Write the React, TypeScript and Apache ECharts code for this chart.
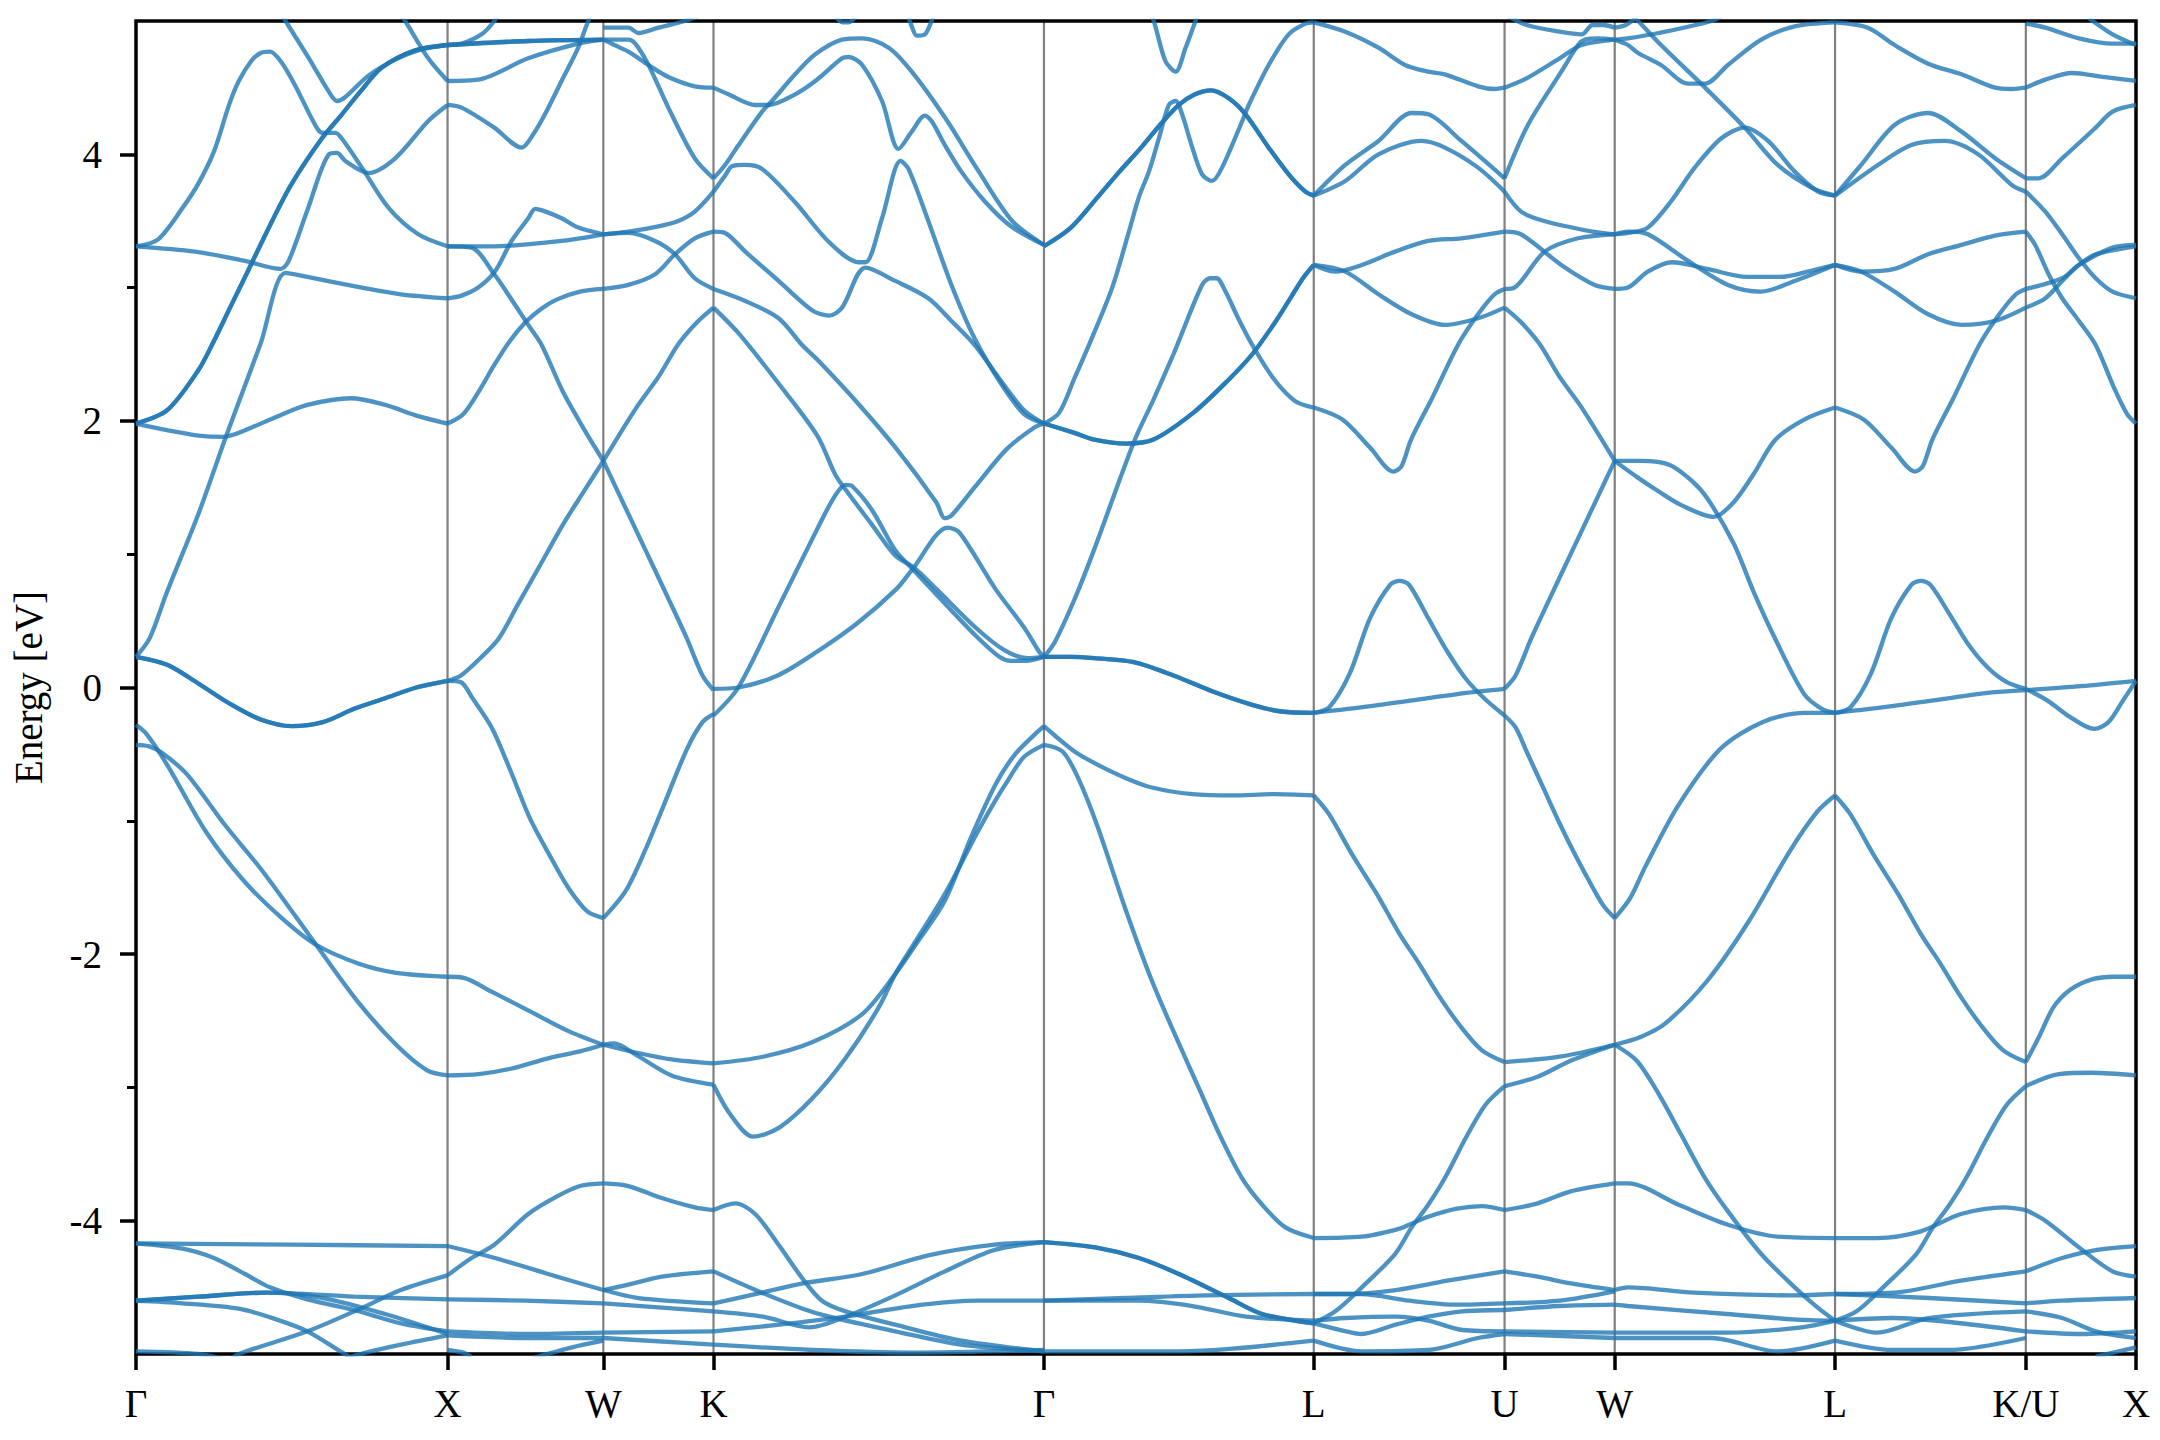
import React, { useEffect, useRef } from "react";
import * as echarts from "echarts";

// High-symmetry path: labels and cumulative path distance (2π/a units)
const kPathLabels = ["Γ", "X", "W", "K", "Γ", "L", "U", "W", "L", "K/U", "X"];
const kPathPositions = [0, 1.0, 1.5, 1.8536, 2.9142, 3.7802, 4.3926, 4.7462, 5.4533, 6.0657, 6.4193];
const yMajorTicks = [-4, -2, 0, 2, 4];
const yMinorTicks = [-3, -1, 1, 3];
const energyMin = -5;
const energyMax = 5;

// Each band: list of [fraction along segment, energy in eV]
const bandsGammaX = [
  [[0, -4.17], [0.5, -4.18], [1, -4.19]],
  [[0, -4.17], [0.15, -4.21], [0.25, -4.28], [0.35, -4.4], [0.43, -4.5], [0.55, -4.59], [0.7, -4.67], [0.85, -4.77], [1, -4.83]],
  [[0, -4.6], [0.2, -4.57], [0.42, -4.54], [0.7, -4.57], [1, -4.59]],
  [[0, -4.6], [0.2, -4.57], [0.42, -4.54], [0.6, -4.58], [0.8, -4.7], [1, -4.85]],
  [[0, -4.6], [0.15, -4.62], [0.33, -4.66], [0.45, -4.74], [0.55, -4.83], [0.67, -5.0], [0.75, -5.1]],
  [[0.3, -5.05], [0.33, -5.0], [0.55, -4.83], [0.72, -4.66], [0.85, -4.52], [1, -4.41]],
  [[0, -4.98], [0.2, -5.0], [0.3, -5.05]],
  [[0.65, -5.05], [0.72, -5.0], [0.85, -4.93], [1, -4.86]],
  [[0, -0.28], [0.034, -0.35], [0.1, -0.58], [0.224, -1.08], [0.346, -1.45], [0.468, -1.73], [0.578, -1.93], [0.713, -2.07], [0.835, -2.14], [1, -2.17]],
  [[0, -0.43], [0.04, -0.44], [0.083, -0.49], [0.163, -0.65], [0.285, -1.03], [0.407, -1.38], [0.578, -1.93], [0.713, -2.36], [0.835, -2.68], [0.933, -2.87], [1, -2.91]],
  [[0, 0.23], [0.1, 0.17], [0.2, 0.03], [0.3, -0.12], [0.4, -0.24], [0.5, -0.29], [0.6, -0.26], [0.7, -0.16], [0.8, -0.08], [0.9, 0.0], [1, 0.05]],
  [[0, 0.23], [0.1, 0.17], [0.2, 0.03], [0.3, -0.12], [0.4, -0.24], [0.5, -0.29], [0.6, -0.26], [0.7, -0.16], [0.8, -0.08], [0.9, 0.0], [1, 0.05]],
  [[0, 0.23], [0.044, 0.37], [0.1, 0.72], [0.2, 1.3], [0.29, 1.89], [0.4, 2.58], [0.48, 3.11], [0.55, 3.08], [0.725, 3.0], [0.85, 2.95], [1, 2.92]],
  [[0, 1.98], [0.1, 1.93], [0.2, 1.89], [0.28, 1.88], [0.35, 1.93], [0.45, 2.03], [0.55, 2.12], [0.69, 2.17], [0.8, 2.12], [0.9, 2.04], [1, 1.98]],
  [[0, 1.98], [0.1, 2.08], [0.2, 2.38], [0.246, 2.58], [0.3, 2.84], [0.35, 3.08], [0.437, 3.5], [0.5, 3.78], [0.597, 4.12], [0.661, 4.3], [0.72, 4.47], [0.789, 4.65], [0.896, 4.78], [1, 4.82]],
  [[0, 1.98], [0.1, 2.08], [0.2, 2.38], [0.246, 2.58], [0.3, 2.84], [0.35, 3.08], [0.437, 3.5], [0.5, 3.78], [0.597, 4.12], [0.661, 4.3], [0.72, 4.47], [0.789, 4.65], [0.896, 4.78], [1, 4.82]],
  [[0, 3.31], [0.07, 3.36], [0.15, 3.6], [0.2, 3.78], [0.25, 4.02], [0.3, 4.38], [0.33, 4.55], [0.37, 4.7], [0.4, 4.76], [0.43, 4.77], [0.47, 4.68], [0.512, 4.51], [0.58, 4.2], [0.6, 4.16], [0.64, 4.16], [0.66, 4.12], [0.725, 3.9], [0.81, 3.6], [0.906, 3.4], [1, 3.31]],
  [[0, 3.31], [0.19, 3.27], [0.35, 3.2], [0.464, 3.14], [0.49, 3.2], [0.55, 3.58], [0.619, 4.0], [0.645, 4.01], [0.672, 3.95], [0.746, 3.86], [0.832, 3.97], [0.938, 4.25], [1, 4.37]],
  [[0.46, 5.08], [0.48, 5.0], [0.555, 4.72], [0.619, 4.47], [0.645, 4.4], [0.672, 4.43], [0.746, 4.59], [0.832, 4.71], [0.906, 4.78], [1, 4.82]],
  [[0.84, 5.08], [0.864, 5.0], [0.938, 4.72], [1, 4.55]],
];

const bandsXW = [
  [[0, -4.19], [0.304, -4.28], [0.732, -4.43], [1, -4.52]],
  [[0, -4.41], [0.154, -4.28], [0.3, -4.18], [0.518, -3.95], [0.7, -3.82], [0.85, -3.74], [1, -3.72]],
  [[0, -4.59], [0.5, -4.6], [1, -4.62]],
  [[0, -4.83], [0.5, -4.85], [1, -4.84]],
  [[0, -4.86], [0.5, -4.88], [1, -4.88]],
  [[0, -4.97], [0.1, -4.99], [0.15, -5.02]],
  [[0.55, -5.03], [0.8, -4.95], [1, -4.9]],
  [[0, -2.17], [0.11, -2.18], [0.28, -2.28], [0.53, -2.43], [0.78, -2.58], [1, -2.68]],
  [[0, -2.91], [0.2, -2.9], [0.406, -2.86], [0.651, -2.78], [0.85, -2.73], [1, -2.68]],
  [[0, 0.05], [0.086, 0.04], [0.16, -0.08], [0.283, -0.3], [0.406, -0.63], [0.528, -0.98], [0.651, -1.25], [0.774, -1.5], [0.897, -1.68], [1, -1.73]],
  [[0, 0.05], [0.086, 0.09], [0.21, 0.22], [0.33, 0.37], [0.45, 0.62], [0.6, 0.93], [0.75, 1.24], [0.88, 1.48], [1, 1.7]],
  [[0, 1.98], [0.1, 2.05], [0.2, 2.22], [0.3, 2.42], [0.4, 2.6], [0.5, 2.74], [0.6, 2.84], [0.7, 2.91], [0.85, 2.97], [1, 2.99]],
  [[0, 3.31], [0.154, 3.3], [0.3, 3.1], [0.4, 2.93], [0.518, 2.72], [0.604, 2.57], [0.74, 2.22], [0.87, 1.95], [1, 1.7]],
  [[0, 3.31], [0.3, 3.31], [0.73, 3.35], [1, 3.4]],
  [[0, 2.92], [0.09, 2.94], [0.197, 3.0], [0.304, 3.12], [0.411, 3.35], [0.518, 3.52], [0.563, 3.59], [0.63, 3.57], [0.732, 3.52], [0.839, 3.45], [1, 3.4]],
  [[0, 4.37], [0.09, 4.35], [0.3, 4.2], [0.475, 4.05], [0.55, 4.15], [0.625, 4.3], [0.732, 4.55], [0.839, 4.8], [0.893, 4.97], [0.95, 5.12]],
  [[0, 4.55], [0.197, 4.56], [0.518, 4.72], [0.839, 4.83], [1, 4.86]],
  [[0, 4.82], [0.518, 4.85], [1, 4.86]],
  [[0, 4.82], [0.518, 4.85], [1, 4.86]],
  [[0, 4.82], [0.09, 4.83], [0.218, 4.9], [0.3, 5.0], [0.35, 5.1]],
];

const bandsWK = [
  [[0, -3.72], [0.227, -3.74], [0.53, -3.83], [0.83, -3.9], [1, -3.92]],
  [[0, -4.52], [0.227, -4.48], [0.53, -4.42], [1, -4.38]],
  [[0, -4.52], [0.32, -4.58], [1, -4.62]],
  [[0, -4.62], [0.5, -4.65], [1, -4.68]],
  [[0, -4.84], [1, -4.83]],
  [[0, -4.88], [1, -4.93]],
  [[0, -2.68], [0.097, -2.67], [0.305, -2.76], [0.618, -2.91], [1, -2.98]],
  [[0, -2.68], [0.305, -2.74], [0.618, -2.79], [1, -2.82]],
  [[0, -1.73], [0.2, -1.53], [0.375, -1.23], [0.55, -0.88], [0.76, -0.46], [0.9, -0.26], [1, -0.2]],
  [[0, 1.7], [0.2, 1.35], [0.4, 1.0], [0.6, 0.65], [0.757, 0.37], [0.9, 0.09], [1, -0.02]],
  [[0, 1.7], [0.3, 2.1], [0.5, 2.33], [0.68, 2.575], [0.85, 2.74], [1, 2.85]],
  [[0, 3.4], [0.227, 3.42], [0.5, 3.46], [0.68, 3.5], [0.83, 3.57], [1, 3.72]],
  [[0, 3.4], [0.227, 3.41], [0.47, 3.35], [0.65, 3.25], [0.83, 3.07], [1, 2.99]],
  [[0, 2.99], [0.227, 3.02], [0.47, 3.1], [0.65, 3.25], [0.83, 3.37], [1, 3.42]],
  [[0, 4.86], [0.227, 4.86], [0.29, 4.83], [0.41, 4.67], [0.59, 4.35], [0.83, 3.97], [1, 3.82]],
  [[0, 4.86], [0.1, 4.82], [0.227, 4.77], [0.41, 4.67], [0.59, 4.58], [0.83, 4.51], [1, 4.5]],
  [[0, 4.95], [0.227, 4.95], [0.32, 4.91], [0.5, 4.95], [0.74, 5.0], [0.9, 5.05]],
];

const bandsKGamma = [
  [[0, -3.92], [0.066, -3.87], [0.126, -3.95], [0.197, -4.18], [0.268, -4.43], [0.328, -4.6], [0.4, -4.68], [0.55, -4.78], [0.75, -4.9], [1, -4.98]],
  [[0, -4.38], [0.146, -4.54], [0.27, -4.66], [0.35, -4.72], [0.55, -4.83], [0.75, -4.93], [1, -4.98]],
  [[0, -4.62], [0.146, -4.54], [0.27, -4.47], [0.45, -4.4], [0.65, -4.26], [0.85, -4.18], [1, -4.16]],
  [[0, -4.68], [0.15, -4.72], [0.29, -4.8], [0.4, -4.72], [0.55, -4.56], [0.7, -4.38], [0.85, -4.22], [1, -4.16]],
  [[0, -4.83], [0.2, -4.78], [0.4, -4.72], [0.6, -4.64], [0.8, -4.6], [1, -4.6]],
  [[0, -4.93], [0.3, -4.97], [0.6, -4.99], [1, -4.97]],
  [[0, -2.98], [0.05, -3.2], [0.12, -3.37], [0.2, -3.3], [0.3, -3.08], [0.4, -2.78], [0.5, -2.4], [0.55, -2.15], [0.6, -1.95], [0.7, -1.55], [0.8, -1.08], [0.85, -0.86], [0.89, -0.7], [0.94, -0.52], [1, -0.43]],
  [[0, -2.82], [0.15, -2.77], [0.3, -2.66], [0.45, -2.45], [0.55, -2.15], [0.62, -1.9], [0.7, -1.6], [0.78, -1.12], [0.855, -0.72], [0.913, -0.5], [0.973, -0.35], [1, -0.29]],
  [[0, -0.21], [0.075, 0.0], [0.194, 0.59], [0.314, 1.19], [0.368, 1.44], [0.4, 1.52], [0.42, 1.51], [0.48, 1.33], [0.55, 1.03], [0.606, 0.88], [0.674, 0.7], [0.793, 0.39], [0.865, 0.23], [0.9, 0.2], [0.95, 0.2], [1, 0.23]],
  [[0, 2.85], [0.075, 2.66], [0.194, 2.29], [0.314, 1.89], [0.37, 1.59], [0.41, 1.45], [0.48, 1.22], [0.55, 0.99], [0.606, 0.9], [0.674, 0.74], [0.793, 0.45], [0.88, 0.28], [0.95, 0.22], [1, 0.23]],
  [[0, -0.01], [0.075, 0.0], [0.194, 0.09], [0.314, 0.27], [0.434, 0.48], [0.554, 0.74], [0.6, 0.88], [0.709, 1.2], [0.745, 1.16], [0.853, 0.74], [0.94, 0.45], [0.985, 0.27], [1, 0.23]],
  [[0, 2.99], [0.096, 2.9], [0.197, 2.77], [0.268, 2.57], [0.314, 2.46], [0.434, 2.14], [0.554, 1.79], [0.674, 1.39], [0.7, 1.27], [0.72, 1.29], [0.793, 1.51], [0.888, 1.79], [0.971, 1.95], [1, 1.98]],
  [[0, 3.42], [0.035, 3.41], [0.096, 3.27], [0.197, 3.05], [0.298, 2.83], [0.35, 2.79], [0.389, 2.85], [0.46, 3.15], [0.55, 3.05], [0.65, 2.92], [0.72, 2.75], [0.79, 2.57], [0.87, 2.3], [0.94, 2.08], [1, 1.98]],
  [[0, 3.72], [0.035, 3.84], [0.056, 3.91], [0.096, 3.92], [0.147, 3.89], [0.247, 3.64], [0.35, 3.34], [0.44, 3.19], [0.46, 3.19], [0.51, 3.52], [0.566, 3.95], [0.59, 3.89], [0.65, 3.5], [0.72, 3.02], [0.79, 2.62], [0.87, 2.28], [0.94, 2.05], [1, 1.98]],
  [[0, 3.82], [0.035, 3.92], [0.076, 4.07], [0.147, 4.32], [0.177, 4.4], [0.247, 4.6], [0.308, 4.75], [0.389, 4.86], [0.45, 4.87], [0.53, 4.8], [0.6, 4.62], [0.702, 4.27], [0.803, 3.87], [0.904, 3.5], [1, 3.32]],
  [[0, 4.5], [0.045, 4.45], [0.126, 4.37], [0.167, 4.37], [0.247, 4.45], [0.308, 4.55], [0.389, 4.72], [0.409, 4.73], [0.45, 4.67], [0.51, 4.4], [0.56, 4.04], [0.6, 4.17], [0.64, 4.29], [0.66, 4.25], [0.7, 4.07], [0.75, 3.87], [0.82, 3.65], [0.9, 3.46], [1, 3.32]],
  [[0.585, 5.06], [0.6, 4.96], [0.615, 4.89], [0.64, 4.9], [0.66, 5.0], [0.67, 5.06]],
  [[0.37, 5.03], [0.39, 4.99], [0.41, 4.99], [0.43, 5.03]],
];

const bandsGammaL = [
  [[0, -4.16], [0.19, -4.2], [0.352, -4.28], [0.5, -4.4], [0.685, -4.58], [0.809, -4.7], [1, -4.77]],
  [[0, -4.16], [0.19, -4.2], [0.352, -4.28], [0.5, -4.4], [0.685, -4.58], [0.809, -4.7], [1, -4.77]],
  [[0, -4.6], [0.3, -4.58], [0.6, -4.56], [1, -4.55]],
  [[0, -4.6], [0.35, -4.6], [0.55, -4.64], [0.75, -4.72], [1, -4.75]],
  [[0, -4.98], [0.5, -4.98], [0.7, -4.96], [1, -4.9]],
  [[0, -0.43], [0.069, -0.48], [0.127, -0.68], [0.2, -1.05], [0.3, -1.65], [0.4, -2.2], [0.5, -2.67], [0.571, -2.99], [0.65, -3.35], [0.734, -3.68], [0.809, -3.88], [0.895, -4.05], [1, -4.13]],
  [[0, -0.29], [0.04, -0.36], [0.113, -0.48], [0.2, -0.58], [0.304, -0.68], [0.4, -0.75], [0.55, -0.8], [0.7, -0.81], [0.85, -0.8], [1, -0.81]],
  [[0, 0.23], [0.1, 0.23], [0.187, 0.22], [0.333, 0.19], [0.48, 0.09], [0.626, -0.03], [0.772, -0.13], [0.88, -0.18], [1, -0.19]],
  [[0, 0.23], [0.1, 0.23], [0.187, 0.22], [0.333, 0.19], [0.48, 0.09], [0.626, -0.03], [0.772, -0.13], [0.88, -0.18], [1, -0.19]],
  [[0, 0.23], [0.04, 0.34], [0.113, 0.66], [0.187, 1.04], [0.333, 1.84], [0.406, 2.16], [0.48, 2.5], [0.5, 2.6], [0.586, 3.02], [0.615, 3.07], [0.64, 3.07], [0.673, 2.97], [0.72, 2.77], [0.772, 2.57], [0.85, 2.32], [0.93, 2.15], [1, 2.1]],
  [[0, 1.98], [0.113, 1.91], [0.187, 1.86], [0.304, 1.83], [0.406, 1.86], [0.553, 2.06], [0.68, 2.3], [0.772, 2.5], [0.85, 2.72], [0.907, 2.9], [0.96, 3.07], [1, 3.17]],
  [[0, 1.98], [0.113, 1.91], [0.187, 1.86], [0.304, 1.83], [0.406, 1.86], [0.553, 2.06], [0.68, 2.3], [0.772, 2.5], [0.85, 2.72], [0.907, 2.9], [0.96, 3.07], [1, 3.17]],
  [[0, 1.98], [0.056, 2.06], [0.113, 2.32], [0.167, 2.57], [0.253, 3.0], [0.315, 3.42], [0.352, 3.68], [0.389, 3.87], [0.426, 4.12], [0.463, 4.37], [0.488, 4.4], [0.512, 4.3], [0.55, 4.05], [0.586, 3.85], [0.623, 3.8], [0.66, 3.9], [0.735, 4.25], [0.759, 4.37], [0.833, 4.67], [0.907, 4.9], [0.969, 4.98], [1, 4.99]],
  [[0, 3.31], [0.1, 3.45], [0.2, 3.68], [0.28, 3.87], [0.36, 4.05], [0.43, 4.22], [0.5, 4.37], [0.56, 4.45], [0.62, 4.48], [0.685, 4.42], [0.747, 4.3], [0.833, 4.05], [0.907, 3.85], [0.969, 3.72], [1, 3.69]],
  [[0, 3.31], [0.1, 3.45], [0.2, 3.68], [0.28, 3.87], [0.36, 4.05], [0.43, 4.22], [0.5, 4.37], [0.56, 4.45], [0.62, 4.48], [0.685, 4.42], [0.747, 4.3], [0.833, 4.05], [0.907, 3.85], [0.969, 3.72], [1, 3.69]],
  [[0.39, 5.06], [0.407, 5.0], [0.45, 4.7], [0.488, 4.62], [0.525, 4.8], [0.562, 5.0], [0.575, 5.06]],
];

const bandsLU = [
  [[0, -4.13], [0.25, -4.12], [0.45, -4.06], [0.5, -4.03], [0.6, -3.97], [0.75, -3.91], [0.88, -3.89], [1, -3.92]],
  [[0, -4.77], [0.113, -4.68], [0.252, -4.5], [0.426, -4.25], [0.513, -4.05], [0.6, -3.88], [0.687, -3.68], [0.8, -3.37], [0.9, -3.13], [1, -2.99]],
  [[0, -4.55], [0.25, -4.55], [0.5, -4.6], [0.75, -4.63], [1, -4.62]],
  [[0, -4.55], [0.17, -4.55], [0.43, -4.52], [0.7, -4.45], [1, -4.38]],
  [[0, -4.77], [0.17, -4.83], [0.25, -4.85], [0.43, -4.78], [0.6, -4.72], [0.78, -4.68], [1, -4.67]],
  [[0, -4.75], [0.17, -4.73], [0.43, -4.72], [0.6, -4.75], [0.78, -4.82], [1, -4.83]],
  [[0, -4.9], [0.25, -4.98], [0.6, -4.97], [0.86, -4.88], [1, -4.85]],
  [[0, -0.81], [0.08, -0.95], [0.2, -1.25], [0.331, -1.55], [0.45, -1.85], [0.547, -2.06], [0.65, -2.3], [0.763, -2.53], [0.88, -2.72], [1, -2.81]],
  [[0, -0.19], [0.3, -0.14], [0.6, -0.08], [0.8, -0.04], [1, -0.01]],
  [[0, -0.19], [0.08, -0.15], [0.187, 0.1], [0.295, 0.52], [0.4, 0.77], [0.45, 0.8], [0.5, 0.77], [0.6, 0.52], [0.7, 0.27], [0.8, 0.06], [0.9, -0.09], [1, -0.21]],
  [[0, 2.1], [0.15, 2.01], [0.295, 1.8], [0.417, 1.62], [0.46, 1.66], [0.51, 1.86], [0.62, 2.17], [0.76, 2.58], [0.861, 2.8], [0.948, 2.95], [1, 2.99]],
  [[0, 3.17], [0.165, 3.12], [0.339, 2.95], [0.513, 2.8], [0.687, 2.72], [0.861, 2.77], [1, 2.85]],
  [[0, 3.17], [0.113, 3.12], [0.252, 3.17], [0.426, 3.27], [0.6, 3.35], [0.774, 3.37], [1, 3.42]],
  [[0, 3.69], [0.165, 3.92], [0.339, 4.1], [0.513, 4.31], [0.6, 4.3], [0.774, 4.1], [1, 3.82]],
  [[0, 3.69], [0.165, 3.8], [0.339, 4.0], [0.565, 4.1], [0.687, 4.05], [0.861, 3.9], [1, 3.72]],
  [[0, 4.99], [0.165, 4.92], [0.339, 4.8], [0.478, 4.67], [0.6, 4.62], [0.687, 4.6], [0.861, 4.51], [0.948, 4.49], [1, 4.5]],
];

const bandsUW = [
  [[0, -3.92], [0.3, -3.87], [0.6, -3.78], [1, -3.72]],
  [[0, -4.38], [0.3, -4.42], [0.6, -4.47], [1, -4.52]],
  [[0, -4.62], [0.5, -4.6], [1, -4.53]],
  [[0, -4.67], [0.5, -4.64], [1, -4.63]],
  [[0, -4.83], [1, -4.84]],
  [[0, -4.85], [1, -4.88]],
  [[0, -2.81], [0.5, -2.77], [1, -2.68]],
  [[0, -2.99], [0.3, -2.92], [0.6, -2.8], [1, -2.68]],
  [[0, -0.21], [0.1, -0.3], [0.2, -0.48], [0.35, -0.75], [0.5, -1.02], [0.65, -1.27], [0.8, -1.5], [0.9, -1.64], [1, -1.73]],
  [[0, -0.01], [0.1, 0.09], [0.243, 0.37], [0.4, 0.65], [0.6, 1.0], [0.8, 1.35], [1, 1.7]],
  [[0, 2.85], [0.15, 2.74], [0.32, 2.575], [0.5, 2.33], [0.7, 2.1], [1, 1.7]],
  [[0, 2.99], [0.09, 3.0], [0.364, 3.27], [0.667, 3.37], [1, 3.4]],
  [[0, 3.42], [0.15, 3.4], [0.515, 3.17], [0.818, 3.02], [1, 2.99]],
  [[0, 3.72], [0.15, 3.57], [0.36, 3.5], [0.8, 3.42], [1, 3.4]],
  [[0, 3.82], [0.212, 4.22], [0.515, 4.62], [0.667, 4.82], [0.73, 4.86], [0.85, 4.87], [1, 4.86]],
  [[0, 4.5], [0.2, 4.57], [0.5, 4.72], [0.7, 4.82], [1, 4.86]],
  [[0, 5.05], [0.2, 4.97], [0.5, 4.92], [0.7, 4.9], [0.8, 4.97], [0.9, 4.97], [1, 4.95]],
];

const bandsWL = [
  [[0, -3.72], [0.06, -3.72], [0.29, -3.88], [0.514, -4.03], [0.74, -4.12], [1, -4.13]],
  [[0, -2.68], [0.1, -2.8], [0.2, -3.05], [0.3, -3.35], [0.41, -3.68], [0.514, -3.93], [0.665, -4.25], [0.817, -4.5], [0.92, -4.65], [1, -4.75]],
  [[0, -4.52], [0.06, -4.5], [0.36, -4.54], [0.81, -4.56], [1, -4.55]],
  [[0, -4.63], [0.06, -4.64], [0.51, -4.7], [0.81, -4.74], [1, -4.75]],
  [[0, -4.84], [0.51, -4.84], [0.85, -4.8], [1, -4.75]],
  [[0, -4.88], [0.44, -4.88], [0.74, -4.98], [1, -4.9]],
  [[0, -2.68], [0.12, -2.62], [0.23, -2.52], [0.42, -2.2], [0.61, -1.75], [0.79, -1.24], [0.92, -0.93], [1, -0.81]],
  [[0, -1.73], [0.07, -1.58], [0.14, -1.34], [0.29, -0.88], [0.48, -0.46], [0.67, -0.26], [0.86, -0.19], [1, -0.19]],
  [[0, 1.7], [0.12, 1.7], [0.25, 1.67], [0.35, 1.55], [0.42, 1.42], [0.54, 1.08], [0.63, 0.72], [0.73, 0.36], [0.86, -0.05], [0.94, -0.16], [1, -0.19]],
  [[0, 1.7], [0.1, 1.58], [0.2, 1.47], [0.3, 1.37], [0.45, 1.28], [0.54, 1.39], [0.63, 1.6], [0.73, 1.86], [0.86, 2.01], [1, 2.1]],
  [[0, 2.99], [0.06, 3.0], [0.15, 3.12], [0.26, 3.19], [0.42, 3.14], [0.6, 3.08], [0.75, 3.08], [0.9, 3.13], [1, 3.17]],
  [[0, 3.4], [0.06, 3.42], [0.151, 3.4], [0.333, 3.2], [0.514, 3.02], [0.665, 2.97], [0.817, 3.05], [1, 3.17]],
  [[0, 3.4], [0.06, 3.41], [0.15, 3.45], [0.257, 3.65], [0.363, 3.9], [0.484, 4.12], [0.59, 4.2], [0.696, 4.1], [0.817, 3.87], [0.923, 3.72], [1, 3.69]],
  [[0.04, 5.1], [0.106, 5.0], [0.21, 4.82], [0.41, 4.5], [0.59, 4.2], [0.74, 3.92], [0.893, 3.75], [1, 3.69]],
  [[0, 4.86], [0.06, 4.82], [0.106, 4.76], [0.21, 4.67], [0.333, 4.53], [0.41, 4.53], [0.514, 4.67], [0.665, 4.86], [0.817, 4.96], [1, 4.99]],
  [[0, 4.86], [0.06, 4.87], [0.2, 4.91], [0.44, 5.0], [0.5, 5.05]],
  [[0, 4.95], [0.05, 4.97], [0.1, 5.03]],
];

const bandsLK = [
  [[0, -4.13], [0.22, -4.13], [0.45, -4.08], [0.66, -3.95], [0.89, -3.9], [1, -3.92]],
  [[0, -4.75], [0.113, -4.68], [0.252, -4.5], [0.426, -4.25], [0.513, -4.05], [0.6, -3.88], [0.687, -3.68], [0.8, -3.37], [0.9, -3.13], [1, -2.99]],
  [[0, -4.55], [0.31, -4.54], [0.66, -4.45], [1, -4.38]],
  [[0, -4.55], [0.49, -4.58], [1, -4.62]],
  [[0, -4.75], [0.22, -4.84], [0.49, -4.73], [1, -4.68]],
  [[0, -4.75], [0.3, -4.73], [0.6, -4.76], [1, -4.83]],
  [[0, -4.9], [0.3, -4.97], [0.6, -4.97], [1, -4.88]],
  [[0, -0.81], [0.08, -0.95], [0.2, -1.25], [0.331, -1.55], [0.45, -1.85], [0.547, -2.06], [0.65, -2.3], [0.763, -2.53], [0.88, -2.72], [1, -2.81]],
  [[0, -0.19], [0.3, -0.14], [0.6, -0.08], [0.8, -0.04], [1, -0.02]],
  [[0, -0.19], [0.08, -0.15], [0.187, 0.1], [0.295, 0.52], [0.4, 0.77], [0.45, 0.8], [0.5, 0.77], [0.6, 0.55], [0.7, 0.32], [0.8, 0.15], [0.9, 0.04], [1, -0.01]],
  [[0, 2.1], [0.15, 2.01], [0.295, 1.8], [0.42, 1.62], [0.46, 1.66], [0.51, 1.86], [0.62, 2.17], [0.76, 2.58], [0.861, 2.8], [0.948, 2.95], [1, 2.99]],
  [[0, 3.17], [0.137, 3.12], [0.312, 2.97], [0.488, 2.8], [0.663, 2.72], [0.839, 2.75], [1, 2.85]],
  [[0, 3.17], [0.137, 3.12], [0.312, 3.14], [0.488, 3.25], [0.663, 3.32], [0.839, 3.39], [1, 3.42]],
  [[0, 3.69], [0.137, 3.92], [0.312, 4.22], [0.488, 4.31], [0.663, 4.17], [0.839, 3.97], [1, 3.82]],
  [[0, 3.69], [0.225, 3.92], [0.4, 4.07], [0.575, 4.1], [0.75, 4.0], [0.926, 3.77], [1, 3.72]],
  [[0, 4.99], [0.172, 4.95], [0.312, 4.82], [0.488, 4.68], [0.663, 4.6], [0.839, 4.5], [0.926, 4.49], [1, 4.5]],
];

const bandsKX = [
  [[0, -3.92], [0.177, -4.0], [0.482, -4.2], [0.787, -4.38], [1, -4.42]],
  [[0, -4.38], [0.33, -4.28], [0.634, -4.22], [1, -4.19]],
  [[0, -4.62], [0.33, -4.6], [1, -4.58]],
  [[0, -4.68], [0.33, -4.73], [0.634, -4.83], [1, -4.88]],
  [[0, -4.83], [0.5, -4.85], [1, -4.83]],
  [[0.634, -5.02], [1, -4.95]],
  [[0, -2.99], [0.3, -2.9], [0.6, -2.89], [1, -2.91]],
  [[0, -2.81], [0.12, -2.62], [0.25, -2.4], [0.4, -2.27], [0.6, -2.19], [0.8, -2.17], [1, -2.17]],
  [[0, -0.01], [0.2, -0.1], [0.4, -0.22], [0.62, -0.31], [0.75, -0.26], [0.88, -0.1], [1, 0.05]],
  [[0, -0.02], [0.5, 0.01], [1, 0.05]],
  [[0, 2.85], [0.177, 2.92], [0.33, 3.05], [0.482, 3.17], [0.634, 3.25], [1, 3.31]],
  [[0, 2.99], [0.33, 3.07], [0.482, 3.17], [0.787, 3.3], [1, 3.32]],
  [[0, 3.42], [0.085, 3.32], [0.207, 3.1], [0.33, 2.92], [0.482, 2.75], [0.634, 2.57], [0.8, 2.25], [0.92, 2.05], [1, 1.98]],
  [[0, 3.72], [0.177, 3.57], [0.33, 3.4], [0.482, 3.22], [0.634, 3.07], [0.787, 2.97], [1, 2.92]],
  [[0, 3.82], [0.116, 3.82], [0.33, 3.97], [0.634, 4.2], [0.787, 4.32], [1, 4.37]],
  [[0, 4.5], [0.177, 4.56], [0.42, 4.61], [0.7, 4.58], [1, 4.55]],
  [[0, 4.98], [0.177, 4.95], [0.482, 4.87], [0.787, 4.83], [1, 4.83]],
  [[0.573, 5.02], [0.787, 4.9], [1, 4.82]],
];

const pathSegments = [
  bandsGammaX, bandsXW, bandsWK, bandsKGamma, bandsGammaL,
  bandsLU, bandsUW, bandsWL, bandsLK, bandsKX,
];

const FONT = "'Liberation Serif', 'DejaVu Serif', serif";
const BAND_COLOR = "rgba(31,119,180,0.8)";

function labelFor(v: number): string {
  for (let i = 0; i < kPathPositions.length; i++) {
    if (Math.abs(kPathPositions[i] - v) < 1e-6) return kPathLabels[i];
  }
  return "";
}

export default function App() {
  const ref = useRef<HTMLDivElement>(null);

  useEffect(() => {
    if (!ref.current) return;
    const chart = echarts.init(ref.current, null, { renderer: "svg" });

    const series: any[] = [];
    // vertical high-symmetry lines
    kPathPositions.slice(1, -1).forEach((k) => {
      series.push({
        type: "line",
        data: [[k, energyMin], [k, energyMax]],
        symbol: "none",
        silent: true,
        z: 1,
        lineStyle: { color: "rgba(0,0,0,0.5)", width: 2.2 },
      });
    });
    pathSegments.forEach((bands, i) => {
      const k0 = kPathPositions[i];
      const k1 = kPathPositions[i + 1];
      bands.forEach((band) => {
        series.push({
          type: "line",
          data: band.map(([t, e]) => [k0 + t * (k1 - k0), e]),
          symbol: "none",
          showSymbol: false,
          smooth: 0.3,
          silent: true,
          z: 2,
          lineStyle: { color: BAND_COLOR, width: 4.3 },
        });
      });
    });

    chart.setOption({
      animation: false,
      backgroundColor: "#ffffff",
      grid: {
        left: 136,
        right: 24,
        top: 21,
        bottom: 86,
        show: true,
        borderColor: "#000",
        borderWidth: 3.5,
        backgroundColor: "transparent",
      },
      xAxis: {
        type: "value",
        min: kPathPositions[0],
        max: kPathPositions[kPathPositions.length - 1],
        axisLine: { show: false, onZero: false },
        axisTick: {
          show: true,
          customValues: kPathPositions,
          length: 16,
          lineStyle: { color: "#000", width: 3.5 },
        },
        axisLabel: {
          show: true,
          customValues: kPathPositions,
          formatter: (v: number) => labelFor(v),
          fontFamily: FONT,
          fontSize: 39,
          color: "#000",
          margin: 30,
          showMinLabel: true,
          showMaxLabel: true,
        },
        splitLine: { show: false },
      },
      yAxis: [
        {
          type: "value",
          min: energyMin,
          max: energyMax,
          axisLine: { show: false, onZero: false },
          axisTick: {
            show: true,
            customValues: yMajorTicks,
            length: 16,
            lineStyle: { color: "#000", width: 3.5 },
          },
          axisLabel: {
            show: true,
            customValues: yMajorTicks,
            fontFamily: FONT,
            fontSize: 39,
            color: "#000",
            margin: 34,
          },
          splitLine: { show: false },
          name: "Energy [eV]",
          nameLocation: "middle",
          nameGap: 88,
          nameTextStyle: { fontFamily: FONT, fontSize: 39, color: "#000" },
        },
        {
          type: "value",
          min: energyMin,
          max: energyMax,
          position: "left",
          offset: 0,
          axisLine: { show: false, onZero: false },
          axisTick: {
            show: true,
            customValues: yMinorTicks,
            length: 9,
            lineStyle: { color: "#000", width: 3 },
          },
          axisLabel: { show: false },
          splitLine: { show: false },
        },
      ],
      series,
    });

    return () => chart.dispose();
  }, []);

  return (
    <div
      ref={ref}
      style={{ position: "absolute", left: 0, top: 0, width: 2160, height: 1440 }}
    />
  );
}
